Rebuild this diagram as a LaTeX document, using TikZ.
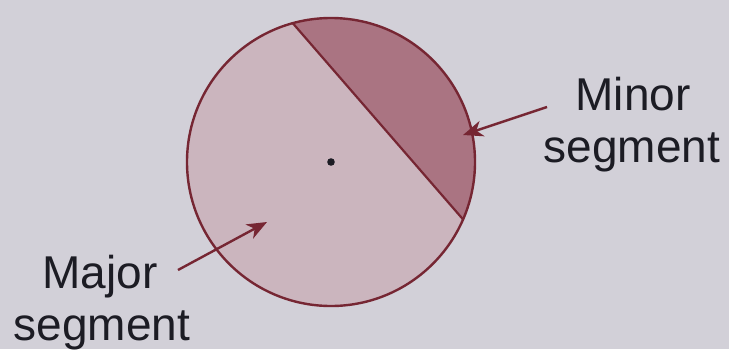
\documentclass[tikz,border=0pt]{standalone}
\usepackage{fontspec}
\setmainfont{Liberation Sans}
\usetikzlibrary{arrows.meta,calc}
\definecolor{bg}{HTML}{D2D0D8}
\definecolor{majorfill}{HTML}{CBB5BE}
\definecolor{minorfill}{HTML}{AA7482}
\definecolor{rim}{HTML}{762633}
\definecolor{ink}{HTML}{1C1C24}
\tikzset{
  lbl/.style={font=\fontsize{46}{52}\selectfont, text=ink, align=center, inner sep=0pt},
  pointer/.style={draw=rim, line width=2.4pt, -{Stealth[length=20pt,width=16pt,inset=6pt]}},
}
\begin{document}
\begin{tikzpicture}[x=1pt,y=-1pt]
\fill[bg] (0,0) rectangle (729,349);
\useasboundingbox (0,0) rectangle (729,349);
\coordinate (c) at (331,162);
\coordinate (p1) at ($(c)+(-105.4:144)$);
\coordinate (p2) at ($(c)+(23.5:144)$);
% major (whole disc)
\fill[majorfill] (c) circle[radius=144];
% minor segment
\fill[minorfill] (p1) arc[start angle=-105.4, end angle=23.5, radius=144] -- cycle;
\draw[rim, line width=2.2pt] (p1) -- (p2);
\draw[rim, line width=2.4pt] (c) circle[radius=144];
\fill[ink] (c) circle[radius=3.8];
% labels
\node[lbl, anchor=base] (minor) at (633,110) {Minor};
\node[lbl, anchor=base] (minorb) at (632,162) {segment};
\node[lbl, anchor=base] (major) at (100,288) {Major};
\node[lbl, anchor=base] (majorb) at (102,340) {segment};
% arrows
\coordinate (mtail) at (547,107);
\coordinate (mtip) at (463,135);
\coordinate (jtail) at (178,270);
\coordinate (jtip) at (267,222);
\draw[pointer] (mtail) -- (mtip);
\draw[pointer] (jtail) -- (jtip);
\end{tikzpicture}
\end{document}
